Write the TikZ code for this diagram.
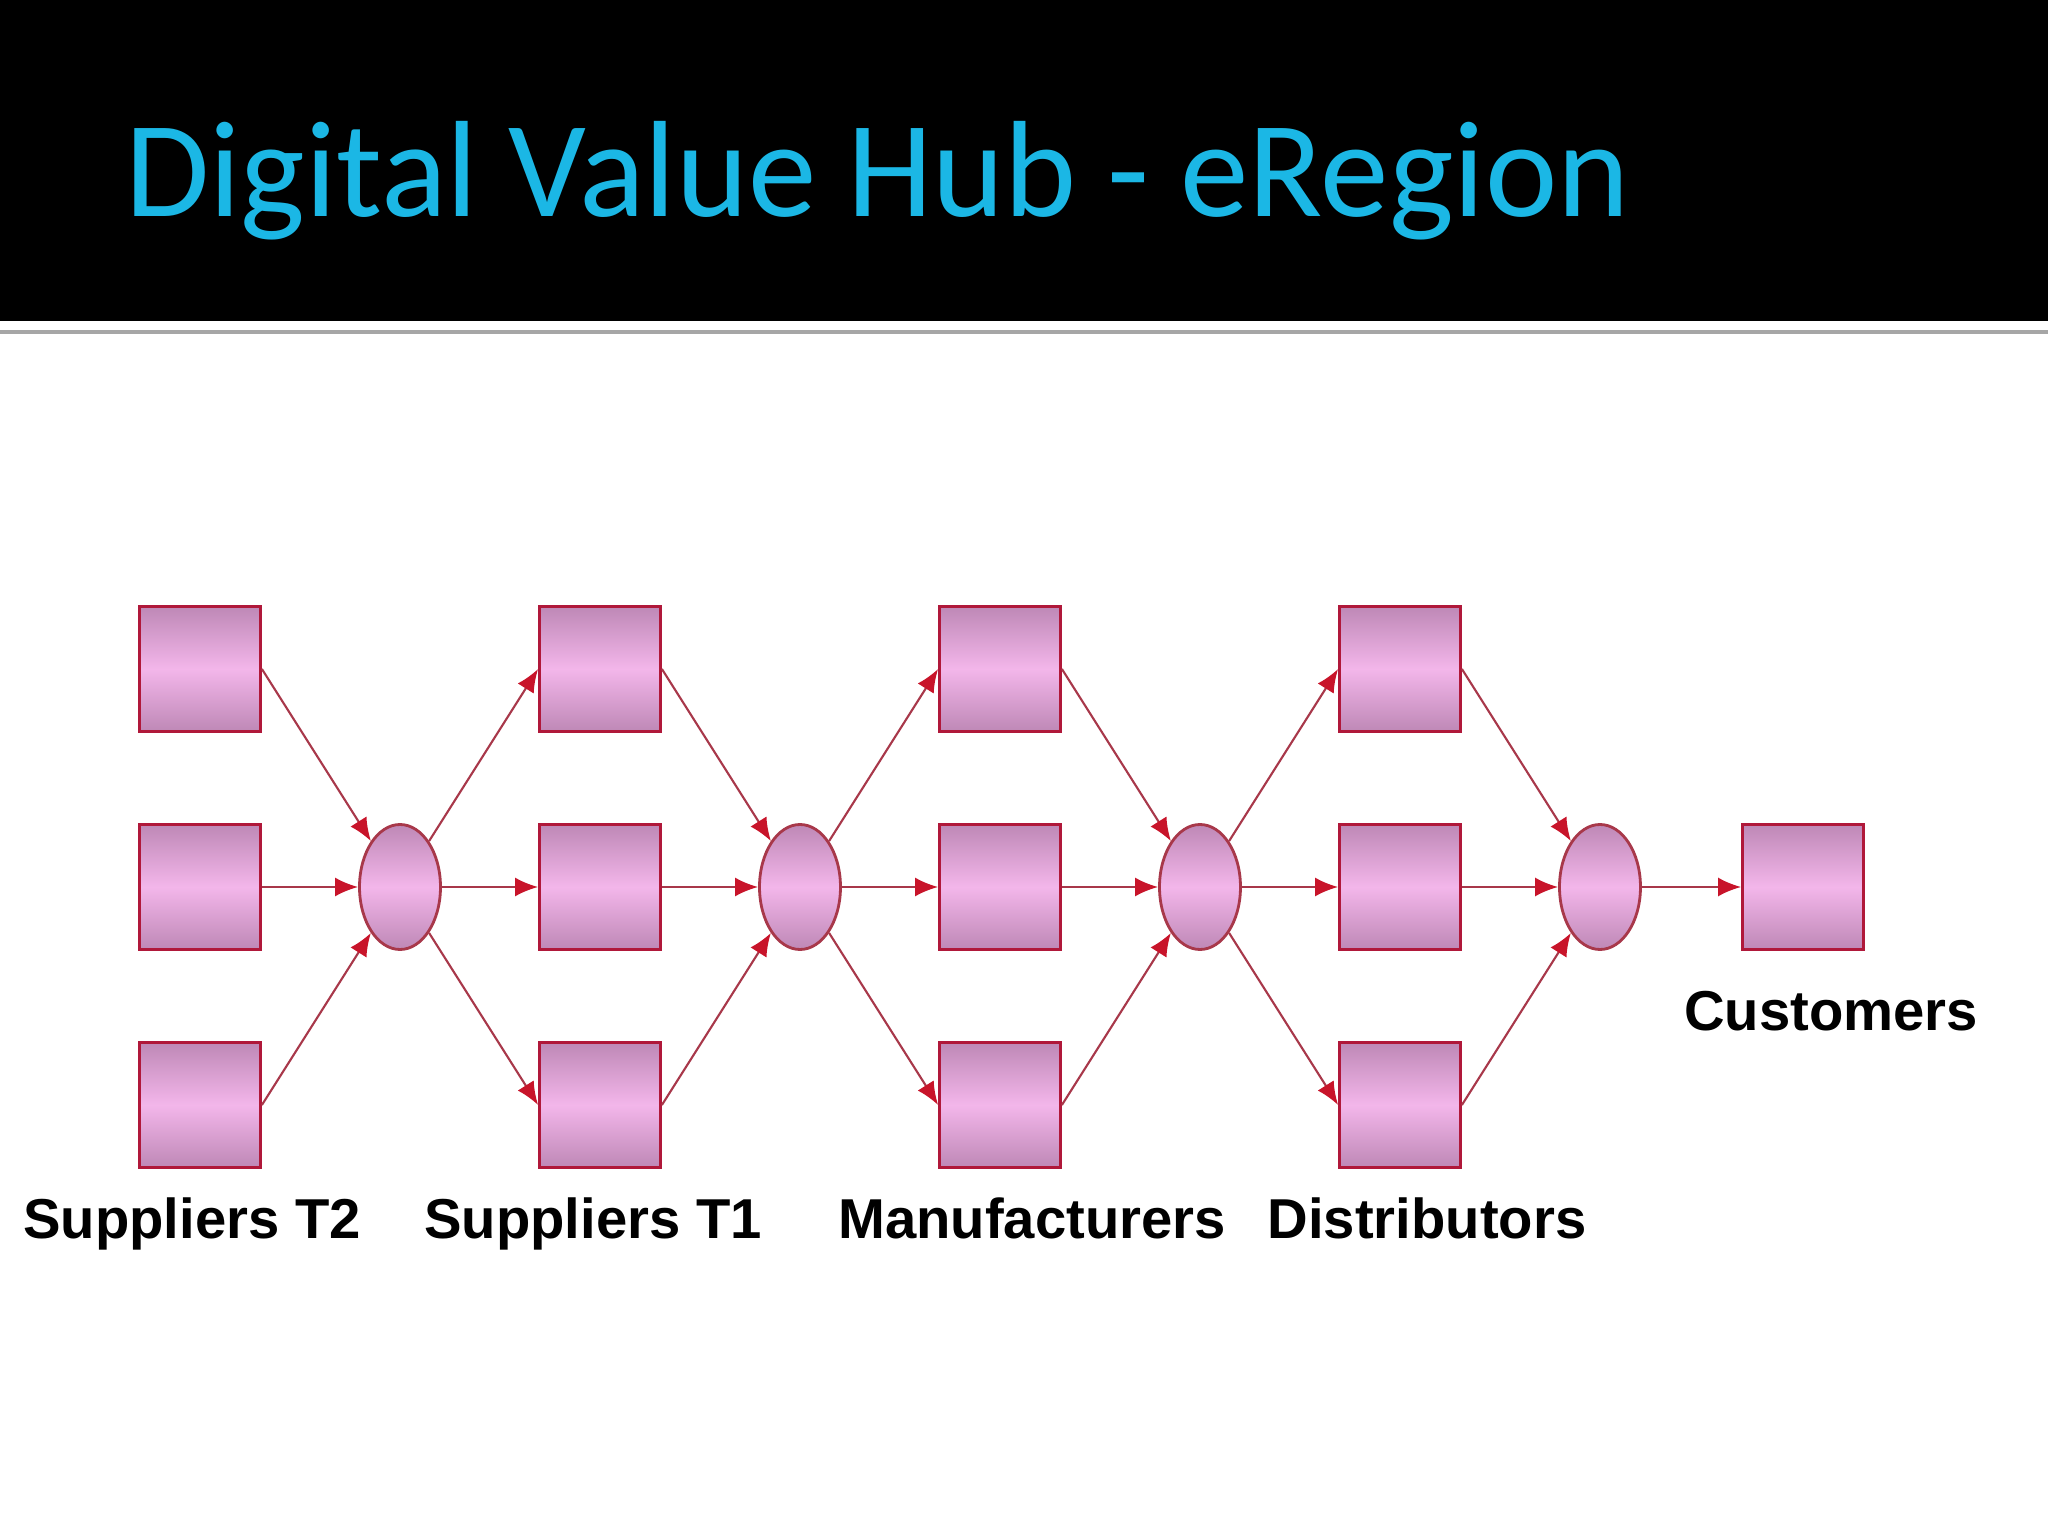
\documentclass[tikz,border=0pt]{standalone}
\usepackage{fontspec}
\setmainfont{Liberation Sans}
\newfontfamily\titlefont{Carlito}
\usetikzlibrary{arrows.meta, positioning, shapes.geometric}
\definecolor{ccyan}{HTML}{1BB7E5}
\definecolor{cred}{HTML}{B0183A}
\definecolor{cline}{HTML}{A8384A}
\definecolor{chead}{HTML}{C8142A}
\definecolor{cmauve}{HTML}{BE88B6}
\definecolor{cpink}{HTML}{F3B6EA}
\tikzset{
  every picture/.style={line width=0.8pt},
  stage/.style={draw=cred, top color=cmauve, bottom color=cmauve, middle color=cpink, minimum width=1.21cm, minimum height=1.25cm, inner sep=0pt},
  hub/.style={ellipse, draw=cline, top color=cmauve, bottom color=cmauve, middle color=cpink, minimum width=0.81cm, minimum height=1.25cm, inner sep=0pt},
  arrow/.style={-{Latex[length=2.3mm, width=1.9mm, color=chead]}, draw=cline, line width=0.6pt},
  title/.style={font=\titlefont\fontsize{39}{42}\selectfont, text=ccyan},
  stagename/.style={font=\bfseries\fontsize{16}{18}\selectfont, anchor=base},
}

\begin{document}
\begin{tikzpicture}
  \useasboundingbox[fill=white] (0,0) rectangle (20.48,-15.36);
  % slide header
  \fill[black] (0,0) rectangle (20.48,-3.21);
  \draw[gray!70, line width=1.3pt] (0,-3.32) -- (20.48,-3.32);
  \node[title, anchor=base west] (title) at (1.12,-2.17) {Digital Value Hub - eRegion};
  % stages (3 per column) and hubs between them
  \foreach \c in {1,...,4} {
    \foreach \r in {1,2,3}
      \node[stage] (S\c-\r) at ({4*\c-2}, {-6.69-2.18*(\r-1)}) {};
    \node[hub] (H\c) at ({4*\c}, -8.87) {};
  }
  \node[stage] (C) at (18.03,-8.87) {};
  % flows into each hub, then out to the next column
  \foreach \c in {1,...,4} \foreach \r in {1,2,3} \draw[arrow] (S\c-\r.east) -- (H\c);
  \foreach \c [evaluate=\c as \n using int(\c+1)] in {1,2,3}
    \foreach \r in {1,2,3} \draw[arrow] (H\c) -- (S\n-\r.west);
  \draw[arrow] (H4) -- (C);
  % column names
  \node[stagename] (nT2) at (1.92,-12.38) {Suppliers T2};
  \node[stagename] (nT1) at (5.93,-12.38) {Suppliers T1};
  \node[stagename] (nM) at (10.32,-12.38) {Manufacturers};
  \node[stagename] (nD) at (14.27,-12.38) {Distributors};
  \node[stagename] (nC) at (18.31,-10.30) {Customers};
\end{tikzpicture}
\end{document}
